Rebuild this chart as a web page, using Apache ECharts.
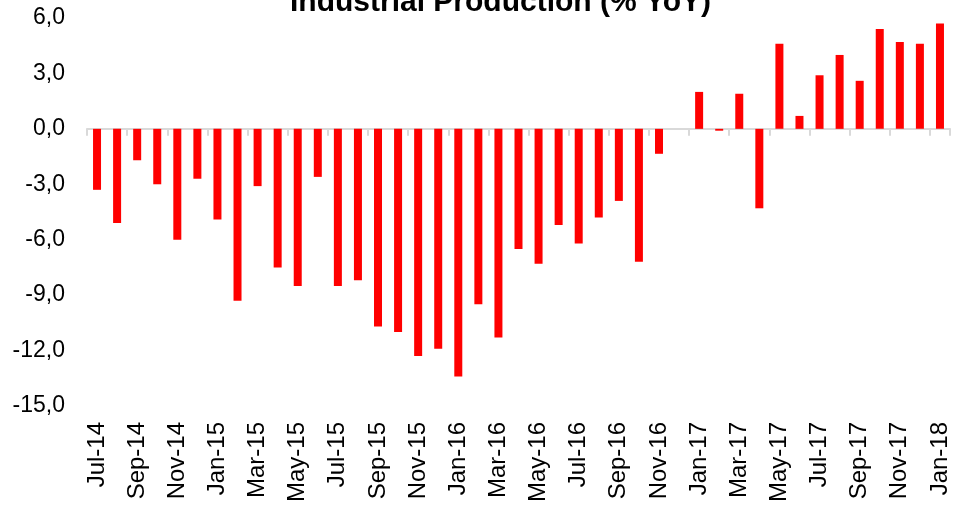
<!DOCTYPE html>
<html>
<head>
<meta charset="utf-8">
<script src="https://cdn.jsdelivr.net/npm/echarts@6/dist/echarts.min.js"></script>
<style>
  html, body { margin: 0; padding: 0; background: #fff; }
  #chart { width: 956px; height: 505px; }
</style>
</head>
<body>
<div id="chart"></div>
<script>
var months = ['Jul-14', 'Aug-14', 'Sep-14', 'Oct-14', 'Nov-14', 'Dec-14',
  'Jan-15', 'Feb-15', 'Mar-15', 'Apr-15', 'May-15', 'Jun-15', 'Jul-15', 'Aug-15', 'Sep-15', 'Oct-15', 'Nov-15', 'Dec-15',
  'Jan-16', 'Feb-16', 'Mar-16', 'Apr-16', 'May-16', 'Jun-16', 'Jul-16', 'Aug-16', 'Sep-16', 'Oct-16', 'Nov-16', 'Dec-16',
  'Jan-17', 'Feb-17', 'Mar-17', 'Apr-17', 'May-17', 'Jun-17', 'Jul-17', 'Aug-17', 'Sep-17', 'Oct-17', 'Nov-17', 'Dec-17',
  'Jan-18']

// % YoY
var production = [-3.3, -5.1, -1.7, -3.0, -6.0, -2.7,
  -4.9, -9.3, -3.1, -7.5, -8.5, -2.6, -8.5, -8.2, -10.7, -11.0, -12.3, -11.9,
  -13.4, -9.5, -11.3, -6.5, -7.3, -5.2, -6.2, -4.8, -3.9, -7.2, -1.35, 0,
  2.0, -0.1, 1.9, -4.3, 4.6, 0.7, 2.9, 4.0, 2.6, 5.4, 4.7, 4.6,
  5.7]

var yMin = -15
var yMax = 6
var yStep = 3

var chart = echarts.init(document.getElementById('chart'))
chart.setOption({
  animation: false,
  title: {
    text: 'Industrial Production (% YoY)',
    left: 285,
    top: -17,
    textStyle: {
      fontFamily: 'Liberation Sans, Arial',
      fontSize: 30,
      fontWeight: 'bold',
      color: '#000'
    }
  },
  grid: {
    left: 87,
    right: 6,
    top: 18,
    bottom: 98
  },
  xAxis: [{
    type: 'category',
    position: 'bottom',
    data: months,
    axisLine: {
      onZero: true,
      lineStyle: { color: '#d9d9d9', width: 2 }
    },
    axisTick: {
      show: true,
      interval: 1,
      length: 7,
      lineStyle: { color: '#d9d9d9', width: 2 }
    },
    axisLabel: { show: false }
  }, {
    type: 'category',
    position: 'bottom',
    data: months,
    axisLine: { show: false, onZero: false },
    axisTick: { show: false },
    axisLabel: {
      interval: 1,
      rotate: 90,
      margin: 16,
      fontFamily: 'Liberation Sans, Arial',
      fontSize: 24,
      color: '#000'
    }
  }],
  yAxis: {
    type: 'value',
    min: yMin,
    max: yMax,
    interval: yStep,
    axisLine: { show: false },
    axisTick: { show: false },
    splitLine: { show: false },
    axisLabel: {
      margin: 22,
      fontFamily: 'Liberation Sans, Arial',
      fontSize: 23,
      color: '#000',
      formatter: function (v) {
        return v.toFixed(1).replace('.', ',')
      }
    }
  },
  series: [{
    name: 'Industrial Production',
    type: 'bar',
    xAxisIndex: 0,
    barWidth: 8,
    itemStyle: { color: '#ff0000' },
    data: production
  }]
})
</script>
</body>
</html>
